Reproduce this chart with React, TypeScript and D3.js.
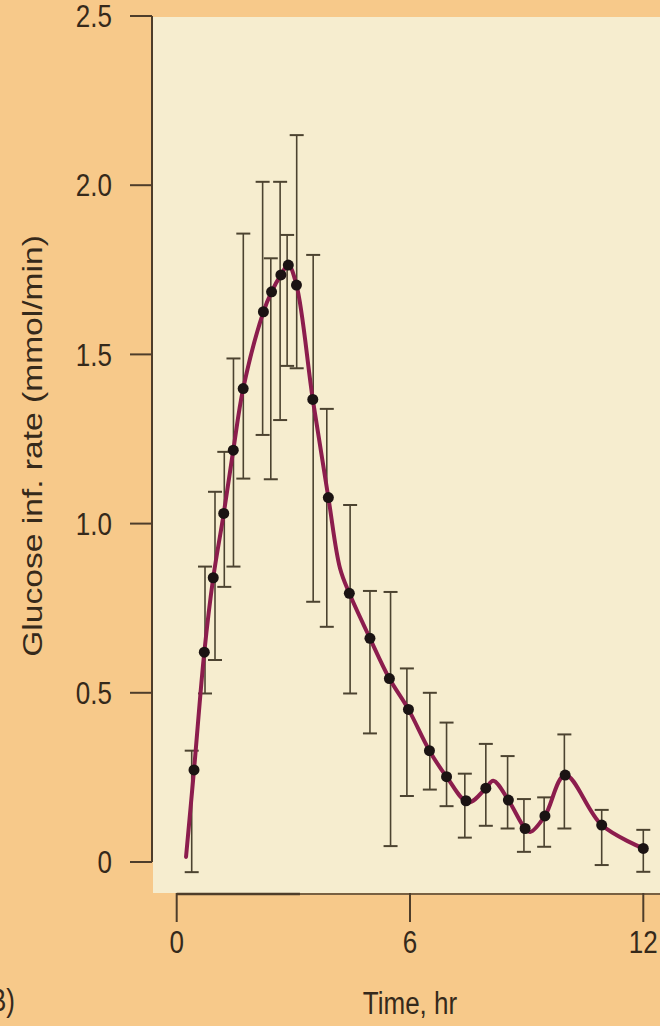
import React, { useEffect } from "react";
import * as d3 from "d3";

// Mean data points (time in hr, glucose infusion rate mmol/min)
const pointTime = [0.445, 0.71, 0.94, 1.21, 1.455, 1.71, 2.23, 2.44, 2.68, 2.87, 3.08, 3.5, 3.9, 4.44, 4.97, 5.47, 5.96, 6.5, 6.94, 7.44, 7.95, 8.53, 8.96, 9.47, 9.99, 10.93, 12.0];
const pointValue = [0.272, 0.62, 0.84, 1.03, 1.217, 1.399, 1.626, 1.685, 1.735, 1.764, 1.705, 1.367, 1.077, 0.794, 0.661, 0.542, 0.451, 0.329, 0.252, 0.181, 0.218, 0.183, 0.099, 0.136, 0.257, 0.109, 0.04];

// Error bars (time, upper, lower)
const barTime = [0.386, 0.728, 0.985, 1.224, 1.46, 1.713, 2.21, 2.42, 2.66, 2.84, 3.086, 3.51, 3.86, 4.46, 4.97, 5.5, 5.92, 6.51, 6.94, 7.41, 7.95, 8.51, 8.93, 9.45, 9.97, 10.93, 12.0];
const barHigh = [0.329, 0.873, 1.094, 1.212, 1.488, 1.857, 2.01, 1.784, 2.01, 1.853, 2.148, 1.794, 1.339, 1.055, 0.801, 0.798, 0.572, 0.5, 0.412, 0.261, 0.349, 0.313, 0.186, 0.191, 0.377, 0.154, 0.095];
const barLow = [-0.03, 0.498, 0.597, 0.813, 0.873, 1.133, 1.262, 1.131, 1.306, 1.466, 1.459, 0.769, 0.695, 0.498, 0.38, 0.047, 0.195, 0.214, 0.165, 0.072, 0.107, 0.099, 0.03, 0.045, 0.099, -0.009, -0.029];

// Fitted curve knots
const curveTime = [0.24, 0.445, 0.71, 0.94, 1.21, 1.455, 1.71, 2.23, 2.44, 2.68, 2.87, 3.08, 3.5, 3.9, 4.2, 4.44, 4.97, 5.47, 5.96, 6.5, 6.94, 7.5, 7.95, 8.14, 8.53, 8.96, 9.1, 9.47, 9.99, 10.93, 12.0];
const curveValue = [0.015, 0.272, 0.62, 0.84, 1.03, 1.217, 1.399, 1.626, 1.685, 1.735, 1.764, 1.705, 1.367, 1.077, 0.868, 0.794, 0.661, 0.542, 0.451, 0.329, 0.252, 0.176, 0.218, 0.24, 0.183, 0.099, 0.089, 0.136, 0.257, 0.109, 0.04];

const yTicks = [0, 0.5, 1.0, 1.5, 2.0, 2.5];
const yTickLabels = ["0", "0.5", "1.0", "1.5", "2.0", "2.5"];
const xTicks = [0, 6, 12];
const xTickLabels = ["0", "6", "12"];

const W = 660;
const H = 1026;
const FONT = "'Liberation Sans', Arial, Helvetica, sans-serif";
const TEXT_COL = "#35291b";
const AXIS_COL = "#4e3d2a";
const BAR_COL = "#4c4330";
const CURVE_COL = "#8c1d4d";
const DOT_COL = "#1b1313";

export default function App() {
  useEffect(() => {
    document.body.style.margin = "0";
  }, []);

  const x = d3.scaleLinear().domain([0, 12]).range([176.7, 643.3]);
  const y = d3.scaleLinear().domain([0, 2.5]).range([862, 16]);

  const curvePts: [number, number][] = curveTime.map((t, i) => [t, curveValue[i]]);
  const line = d3
    .line<[number, number]>()
    .x((d) => x(d[0]))
    .y((d) => y(d[1]))
    .curve(d3.curveCatmullRom.alpha(0.5));

  const axisX = 152;
  const capHalf = 7;

  return (
    <svg width={W} height={H} style={{ position: "absolute", left: 0, top: 0, display: "block" }}>
      <rect x={0} y={0} width={W} height={H} fill="#f7c98a" />
      <rect x={153} y={17} width={W - 153} height={893 - 17} fill="#f6edcf" />

      {/* Y axis */}
      <line x1={axisX} x2={axisX} y1={y(2.5)} y2={y(0)} stroke={AXIS_COL} strokeWidth={2} />
      {yTicks.map((v, i) => (
        <g key={"yt" + i}>
          <line x1={130} x2={axisX} y1={y(v)} y2={y(v)} stroke={AXIS_COL} strokeWidth={2} />
          <text
            transform={`translate(112,${y(v)}) scale(1,1.2)`}
            textAnchor="end"
            dy="0.36em"
            fontFamily={FONT}
            fontSize={26}
            fill={TEXT_COL}
          >
            {yTickLabels[i]}
          </text>
        </g>
      ))}
      <text
        transform={`translate(42,446) rotate(-90) scale(1.2,1)`}
        textAnchor="middle"
        fontFamily={FONT}
        fontSize={28}
        fill={TEXT_COL}
      >
        Glucose inf. rate (mmol/min)
      </text>

      {/* X axis */}
      <line x1={x(0)} x2={W} y1={894} y2={894} stroke={AXIS_COL} strokeWidth={1.5} />
      <line x1={x(0)} x2={x(3.17)} y1={894} y2={894} stroke={AXIS_COL} strokeWidth={2.5} />
      {xTicks.map((t, i) => (
        <g key={"xt" + i}>
          <line x1={x(t)} x2={x(t)} y1={893} y2={922} stroke={AXIS_COL} strokeWidth={2} />
          <text
            transform={`translate(${x(t)},942) scale(1,1.2)`}
            textAnchor="middle"
            dy="0.36em"
            fontFamily={FONT}
            fontSize={26}
            fill={TEXT_COL}
          >
            {xTickLabels[i]}
          </text>
        </g>
      ))}
      <text
        transform={`translate(${x(6)},1003) scale(1,1.2)`}
        textAnchor="middle"
        dy="0.36em"
        fontFamily={FONT}
        fontSize={26}
        fill={TEXT_COL}
      >
        Time, hr
      </text>
      <text
        transform={`translate(15,1000) scale(1,1.2)`}
        textAnchor="end"
        dy="0.36em"
        fontFamily={FONT}
        fontSize={26}
        fill={TEXT_COL}
      >
        (B)
      </text>

      {/* Error bars */}
      {barTime.map((t, i) => (
        <g key={"b" + i} stroke={BAR_COL} strokeWidth={1.6}>
          <line x1={x(t)} x2={x(t)} y1={y(barHigh[i])} y2={y(barLow[i])} />
          <line x1={x(t) - capHalf} x2={x(t) + capHalf} y1={y(barHigh[i])} y2={y(barHigh[i])} strokeWidth={2} />
          <line x1={x(t) - capHalf} x2={x(t) + capHalf} y1={y(barLow[i])} y2={y(barLow[i])} strokeWidth={2} />
        </g>
      ))}

      {/* Fitted curve */}
      <path d={line(curvePts) || ""} fill="none" stroke={CURVE_COL} strokeWidth={4} strokeLinejoin="round" strokeLinecap="round" />

      {/* Points */}
      {pointTime.map((t, i) => (
        <circle key={"p" + i} cx={x(t)} cy={y(pointValue[i])} r={5.5} fill={DOT_COL} />
      ))}
    </svg>
  );
}
